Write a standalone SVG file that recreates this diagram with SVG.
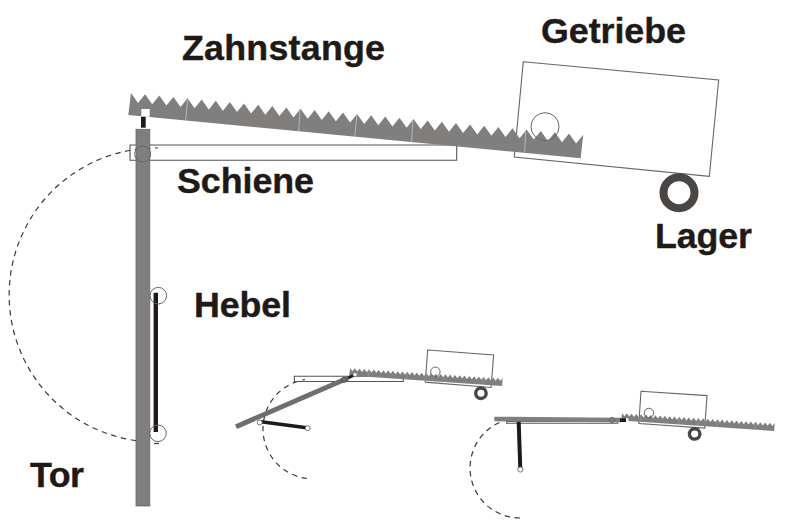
<svg xmlns="http://www.w3.org/2000/svg" xmlns:xlink="http://www.w3.org/1999/xlink" width="800" height="532" viewBox="0 0 800 532">
<style>
text{font-family:"Liberation Sans",Arial,sans-serif;font-weight:700;font-size:35.8px;fill:#1f1a17;stroke:#1f1a17;stroke-width:.4}
.thin{fill:none;stroke:#555;stroke-width:1.1;vector-effect:non-scaling-stroke}
.box{fill:#fff;stroke:#666;stroke-width:1.1;vector-effect:non-scaling-stroke}
.ring{fill:none;stroke:#666;stroke-width:1;vector-effect:non-scaling-stroke}
.dash{fill:none;stroke:#3a3a3a;stroke-width:1.2;stroke-dasharray:5.5 4.5}
.tor{fill:#807f7d;stroke:#666;stroke-width:.8}
.hebel{stroke:#1f1a17;fill:none}
.pin{fill:#fff;stroke:#555;stroke-width:.8}
.seam{stroke:#b5b5b3;stroke-width:1;fill:none}
.lager{fill:none;stroke:#4a4644}
</style>
<defs>
<g id="rack">
<polygon fill="#807f7d" points="131,93 138,103 145.1,94.3 152.2,104.3 159.3,95.6 166.4,105.6 173.4,96.9 180.5,106.9 187.5,98.2 194.6,108.2 201.7,99.5 208.8,109.5 215.8,100.8 222.9,110.8 229.9,102.1 237,112.1 244,103.5 251.1,113.5 258.2,104.8 265.3,114.8 272.3,106.1 279.4,116.1 286.4,107.4 293.5,117.4 300.6,108.7 307.7,118.7 314.7,110 321.8,120 328.8,111.3 335.9,121.3 343,112.6 350.1,122.6 357.1,113.9 364.2,123.9 371.2,115.2 378.3,125.2 385.3,116.5 392.4,126.5 399.5,117.8 406.6,127.8 413.6,119.1 420.7,129.1 427.7,120.4 434.8,130.4 441.9,121.8 449,131.8 456,123.1 463.1,133.1 470.1,124.4 477.2,134.4 484.3,125.7 491.4,135.7 498.4,127 505.5,137 512.5,128.3 519.6,138.3 526.6,129.6 533.7,139.6 540.8,130.9 547.9,140.9 554.9,132.2 562,142.2 569,133.5 576.1,143.5 583.2,134.8 580.7,158.3 128.3,115"/>
<rect x="141.3" y="109" width="8.4" height="7.8" fill="#fff"/>
<path class="seam" d="M187.7 100L185.7 120M300 110L298.7 131M357 115L354.7 137M412.7 120L411.7 142M525.7 131L524.7 152"/>
</g>
<g id="gear">
<polygon class="box" points="523.3,61.7 718.7,80 709.3,176.3 514.3,157"/>
<circle class="lager" cx="679" cy="192.7" r="15.5"/>
</g>
<circle id="pinion" class="ring" cx="545" cy="126.7" r="14"/>
</defs>

<g id="connectors">
<path class="dash" d="M136 440.6A147 147 0 0 1 158 148"/>
<path class="dash" d="M154 443.5H159"/>
<path class="dash" d="M307 478.5A50 50 0 0 1 305 379.5"/>
<path class="dash" d="M520 518A50 50 0 0 1 503 421"/>
</g>

<g id="getriebe-main" stroke-width="8"><use xlink:href="#gear" href="#gear"/></g>
<g id="schiene-main"><rect class="thin" x="130" y="145" width="326.7" height="15.3"/></g>
<g id="zahnstange-main"><use xlink:href="#rack" href="#rack"/><use xlink:href="#pinion" href="#pinion"/></g>
<g id="tor-main">
<rect class="tor" x="136" y="129.3" width="13.8" height="376.7"/>
<rect x="141" y="116.7" width="4.7" height="11" fill="#1f1a17"/>
<circle class="ring" cx="142.7" cy="154" r="8"/>
</g>
<g id="hebel-main">
<path class="hebel" stroke-width="4.4" d="M155.8 292.7V432"/>
<circle class="ring" cx="158.3" cy="295.7" r="8.3"/>
<circle class="ring" cx="158" cy="433.3" r="8.3"/>
</g>

<g id="stage-open">
<g stroke-width="10" transform="translate(427.7,350) rotate(-1) scale(.337) translate(-523.3,-61.7)"><use xlink:href="#gear" href="#gear"/></g>
<rect class="thin" x="294.3" y="376.3" width="109" height="5.2"/>
<g transform="translate(350,368) rotate(-1.5) scale(.337) translate(-131,-93)"><use xlink:href="#rack" href="#rack"/></g>
<g transform="translate(427.7,350) rotate(-1) scale(.337) translate(-523.3,-61.7)"><use xlink:href="#pinion" href="#pinion"/></g>
<path d="M236 426.7L348 378" stroke="#6f6e6c" stroke-width="5" fill="none"/>
<path d="M348 378L353 375.6" stroke="#1f1a17" stroke-width="3" fill="none"/>
<circle cx="344.3" cy="379.7" r="2.6" fill="#6f6e6c" stroke="#444" stroke-width=".8"/>
<path class="hebel" stroke-width="3.6" d="M261 421.7L306.7 427.7"/>
<circle class="pin" cx="259.7" cy="422.5" r="2.5"/>
<circle class="pin" cx="307.7" cy="428.2" r="2.5"/>
</g>

<g id="stage-closed">
<g stroke-width="10" transform="translate(641,391.3) rotate(-1.6) scale(.337) translate(-523.3,-61.7)"><use xlink:href="#gear" href="#gear"/></g>
<rect class="thin" x="506.7" y="421.5" width="111" height="1.8"/>
<g transform="translate(622,413) rotate(-1.5) scale(.337) translate(-131,-93)"><use xlink:href="#rack" href="#rack"/></g>
<g transform="translate(641,391.3) rotate(-1.6) scale(.337) translate(-523.3,-61.7)"><use xlink:href="#pinion" href="#pinion"/></g>
<path d="M494.3 419L621 420" stroke="#807f7d" stroke-width="4.6" fill="none"/>
<rect x="620" y="418.3" width="6" height="3.7" fill="#1f1a17"/>
<circle class="ring" cx="612" cy="420" r="2.6"/>
<path class="hebel" stroke-width="4" d="M518.7 422L520.3 469"/>
<circle class="pin" cx="520.3" cy="469.5" r="2.6"/>
</g>

<text id="label-zahnstange" x="182" y="60" textLength="203">Zahnstange</text>
<text id="label-getriebe" x="541" y="43" textLength="145">Getriebe</text>
<text id="label-schiene" x="177" y="193" textLength="137">Schiene</text>
<text id="label-lager" x="655" y="248" textLength="97">Lager</text>
<text id="label-hebel" x="194" y="317" textLength="97">Hebel</text>
<text id="label-tor" x="30" y="487" textLength="54">Tor</text>
</svg>
